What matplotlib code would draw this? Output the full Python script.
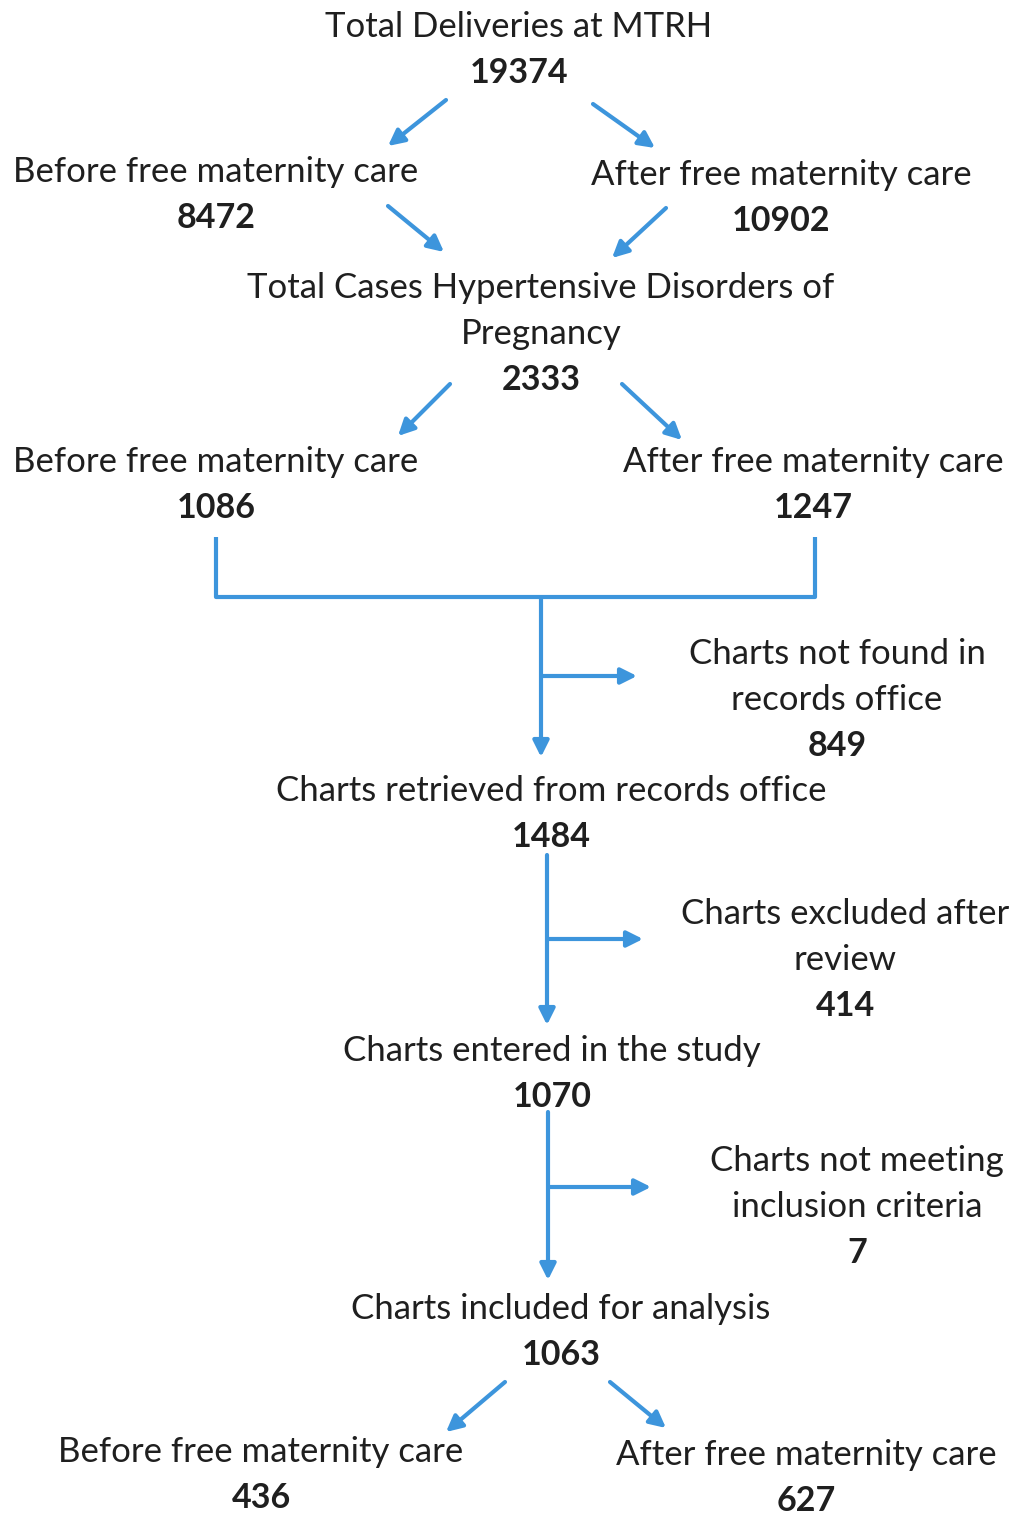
import matplotlib.pyplot as plt

# flowchart content
titles = ["Total Deliveries at MTRH",
          "Before free maternity care", "After free maternity care",
          "Total Cases Hypertensive Disorders of\nPregnancy",
          "Before free maternity care", "After free maternity care",
          "Charts not found in\nrecords office",
          "Charts retrieved from records office",
          "Charts excluded after\nreview",
          "Charts entered in the study",
          "Charts not meeting\ninclusion criteria",
          "Charts included for analysis",
          "Before free maternity care", "After free maternity care"]
counts = [19374, 8472, 10902, 2333, 1086, 1247, 849, 1484, 414, 1070, 7, 1063, 436, 627]

# box anchors (pixel coords: centre x, y of first line)
pos = [(519, 27), (216, 172), (781, 175), (541, 288), (216, 462), (813, 462),
       (837, 654), (551, 791), (845, 914), (552, 1051), (857, 1161), (561, 1309),
       (261, 1452), (806, 1455)]

blue = '#3d95dc'
ink = '#1f1f1f'
line_h = 46

W, H = 1011, 1517
fig = plt.figure(figsize=(W / 100, H / 100), dpi=100)
ax = fig.add_axes([0, 0, 1, 1])
ax.set_xlim(0, W)
ax.set_ylim(H, 0)
ax.axis('off')

for t, n, (x, y) in zip(titles, counts, pos):
    lines = t.split('\n')
    for i, ln in enumerate(lines):
        ax.text(x, y + i * line_h, ln, ha='center', va='center',
                fontsize=25, family='Lato', color=ink)
    ax.text(x, y + len(lines) * line_h, str(n), ha='center', va='center',
            fontsize=24.5, family='Lato', weight='bold', color=ink)


def arrow(x0, y0, x1, y1):
    ax.annotate('', xy=(x1, y1), xytext=(x0, y0),
                arrowprops=dict(arrowstyle='-|>', color=blue, lw=3,
                                mutation_scale=24, shrinkA=0, shrinkB=0))


def seg(xs, ys):
    ax.plot(xs, ys, color=blue, lw=3, solid_capstyle='butt')


# diagonal splits
arrow(446, 100, 388, 146)
arrow(593, 104, 655, 148)
arrow(388, 206, 444, 252)
arrow(666, 208, 612, 258)
arrow(450, 384, 398, 436)
arrow(622, 384, 682, 440)

# merge bracket
seg([216, 216, 815, 815], [537, 597, 597, 537])
arrow(541, 597, 541, 757)
arrow(541, 676, 637, 676)

arrow(547, 855, 547, 1025)
arrow(547, 939, 643, 939)

arrow(548, 1112, 548, 1280)
arrow(548, 1187, 651, 1187)

arrow(505, 1382, 446, 1432)
arrow(610, 1382, 666, 1428)

fig.savefig('out.png', dpi=100, facecolor='white')
